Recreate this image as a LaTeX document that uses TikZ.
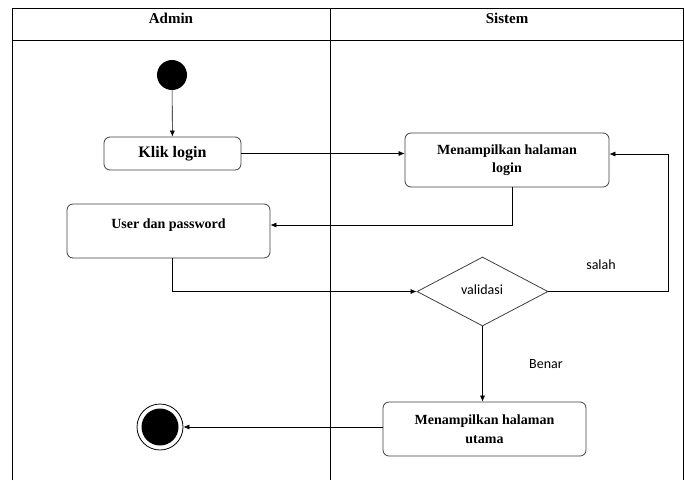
\documentclass[tikz,border=0pt]{standalone}
\usepackage{fontspec}
\setmainfont{Liberation Serif}
\newfontfamily\calib{Carlito}
\usetikzlibrary{arrows.meta,shapes.geometric}
\begin{document}
\begin{tikzpicture}[x=1pt,y=-1pt,
  act/.style={draw=black!75,line width=0.8pt,rounded corners=6pt,fill=white,font=\bfseries\fontsize{14}{18.5}\selectfont,align=center},
  flow/.style={draw=black,line width=0.6pt,-{Latex[length=6pt,width=5pt]}},
  lbl/.style={font=\calib\fontsize{14}{16}\selectfont}]
\useasboundingbox (0,0) rectangle (684,480);
% swimlanes
\draw[line width=0.8pt] (12,480) -- (12,8) -- (684,8);
\draw[line width=0.8pt] (12,40) -- (684,40);
\draw[line width=0.8pt] (330,8) -- (330,480);
\draw[line width=0.8pt] (683,8) -- (683,480);
\node[font=\bfseries\fontsize{15}{17}\selectfont] (hA) at (171,18) {Admin};
\node[font=\bfseries\fontsize{15}{17}\selectfont] (hS) at (507,18) {Sistem};
% nodes
\node[circle,fill=black,minimum size=30pt,inner sep=0pt] (start) at (172,75) {};
\node[act,minimum width=137pt,minimum height=33pt,font=\bfseries\fontsize{16}{18}\selectfont] (klik) at (172.5,153.5) {Klik login};
\node[act,minimum width=204pt,minimum height=54pt] (mlogin) at (507,160) {Menampilkan halaman\\login};
\node[act,minimum width=203pt,minimum height=54pt] (user) at (168.5,231) {};
\node[font=\bfseries\fontsize{14}{16}\selectfont] (usert) at (168.5,225) {User dan password};
\node[diamond,draw=black!75,line width=0.8pt,minimum width=131pt,minimum height=69pt,inner sep=0pt,aspect=1.9] (val) at (482.5,291.5) {};
\node[lbl] (valt) at (482,290) {validasi};
\node[act,minimum width=203pt,minimum height=54pt] (mutama) at (484.5,429) {Menampilkan halaman\\utama};
\node[circle,draw=black,line width=0.8pt,minimum size=46pt,inner sep=0pt] (endo) at (160,427) {};
\node[circle,fill=black,minimum size=37pt,inner sep=0pt] (endi) at (160,427) {};
\node[lbl] (salah) at (601,265) {salah};
\node[lbl] (benar) at (546,364) {Benar};
% connectors
\draw[flow] (start) -- (klik);
\draw[flow] (klik.east) -- (mlogin.west |- klik.east);
\draw[flow] (mlogin.south -| 512,0) -- (512,225) -- (user.east |- 0,225);
\draw[flow] (user.south -| 172,0) -- (172,291.5) -- (val.west);
\draw[flow] (val.east) -- (668,291.5) -- (668,154) -- (mlogin.east |- 0,154);
\draw[flow] (val.south) -- (mutama.north -| val.south);
\draw[flow] (mutama.west |- 0,427) -- (endo.east);
\end{tikzpicture}
\end{document}
